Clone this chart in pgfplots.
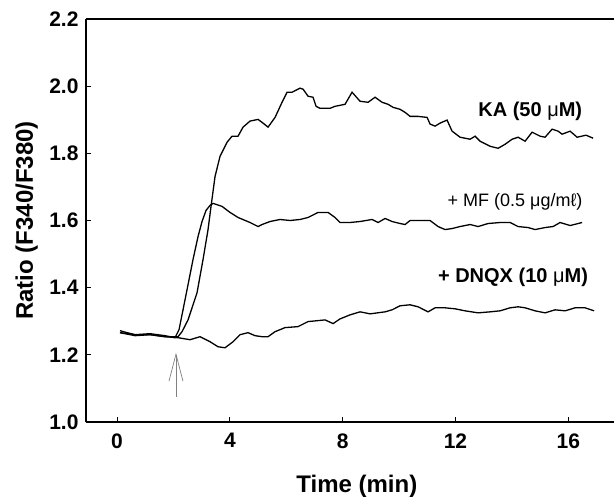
\documentclass[border=0pt]{standalone}
\usepackage{fontspec}
\setmainfont{Liberation Sans}
\usepackage{pgfplots}
\pgfplotsset{compat=1.18}
\usetikzlibrary{arrows.meta}

\pgfplotstableread{
t v
0.106 1.266
0.638 1.257
1.170 1.260
1.702 1.254
2.163 1.254
2.305 1.269
2.518 1.304
2.837 1.385
3.050 1.484
3.227 1.573
3.333 1.642
3.475 1.731
3.652 1.791
3.901 1.833
4.078 1.851
4.291 1.851
4.468 1.878
4.716 1.896
5.000 1.901
5.177 1.890
5.355 1.878
5.603 1.907
5.851 1.952
6.028 1.982
6.206 1.982
6.489 1.994
6.596 1.991
6.773 1.970
6.950 1.967
7.057 1.940
7.199 1.934
7.553 1.934
7.730 1.940
8.085 1.946
8.333 1.982
8.617 1.955
8.901 1.952
9.149 1.967
9.397 1.952
9.610 1.946
9.787 1.937
10.035 1.931
10.213 1.922
10.390 1.910
10.674 1.910
10.993 1.907
11.099 1.887
11.277 1.881
11.454 1.890
11.702 1.899
11.879 1.866
12.163 1.848
12.518 1.842
12.695 1.851
12.872 1.836
13.227 1.821
13.511 1.815
13.759 1.827
14.007 1.842
14.220 1.848
14.468 1.836
14.716 1.863
15.000 1.851
15.177 1.848
15.426 1.872
15.638 1.866
15.780 1.857
16.064 1.866
16.312 1.848
16.631 1.854
16.879 1.845
}\ka

\pgfplotstableread{
t v
0.106 1.272
0.355 1.266
0.638 1.260
1.170 1.263
1.702 1.257
2.057 1.251
2.199 1.275
2.340 1.334
2.518 1.409
2.695 1.484
2.872 1.552
3.014 1.597
3.156 1.630
3.298 1.645
3.404 1.651
3.723 1.642
4.007 1.624
4.291 1.609
4.716 1.594
5.000 1.582
5.142 1.588
5.426 1.597
5.780 1.603
6.135 1.600
6.489 1.603
6.773 1.609
7.128 1.624
7.482 1.624
7.730 1.609
7.908 1.594
8.262 1.594
8.617 1.597
9.043 1.603
9.255 1.594
9.504 1.606
9.752 1.597
10.035 1.591
10.213 1.588
10.390 1.600
10.745 1.600
11.099 1.600
11.383 1.582
11.631 1.573
11.879 1.576
12.163 1.582
12.518 1.588
12.801 1.582
13.156 1.591
13.582 1.594
13.936 1.594
14.220 1.582
14.574 1.579
14.823 1.573
15.177 1.579
15.461 1.582
15.709 1.594
16.064 1.585
16.348 1.591
16.489 1.594
}\mf

\pgfplotstableread{
t v
0.106 1.266
0.638 1.260
1.170 1.260
1.702 1.254
2.163 1.251
2.589 1.245
2.943 1.254
3.298 1.239
3.582 1.224
3.830 1.221
4.113 1.239
4.362 1.260
4.645 1.266
4.894 1.257
5.142 1.254
5.355 1.254
5.603 1.269
5.957 1.281
6.418 1.284
6.773 1.299
7.021 1.301
7.376 1.304
7.660 1.293
7.908 1.307
8.262 1.319
8.617 1.328
8.972 1.322
9.504 1.328
9.752 1.334
10.035 1.346
10.390 1.349
10.674 1.343
11.028 1.328
11.277 1.340
11.631 1.340
11.986 1.337
12.340 1.331
12.801 1.325
13.227 1.328
13.582 1.331
13.936 1.340
14.220 1.343
14.468 1.340
14.823 1.331
15.177 1.325
15.532 1.334
15.887 1.331
16.241 1.340
16.596 1.340
16.915 1.331
}\dnqx

\begin{document}
\begin{tikzpicture}
\useasboundingbox (-86pt,-75pt) rectangle (528pt,422pt);
\begin{axis}[
  at={(0,0)}, anchor=south west,
  scale only axis, width=528pt, height=403pt,
  xmin=-1.1, xmax=17.62, ymin=1.0, ymax=2.2,
  axis x line=box, axis y line=left,
  axis line style={-, line width=1.2pt, black},
  xtick={0,4,8,12,16}, ytick={1.0,1.2,...,2.2},
  xtick pos=left, ytick pos=left,
  tick align=inside,
  major tick length=5pt,
  tick style={line width=0.8pt, black},
  /pgf/number format/assume math mode=true,
  ticklabel style={font=\fontsize{21}{25}\selectfont\bfseries},
  yticklabel style={xshift=-4pt, /pgf/number format/fixed, /pgf/number format/fixed zerofill, /pgf/number format/precision=1},
  xticklabel style={yshift=-8pt},
  xlabel={Time (min)},
  ylabel={Ratio (F340/F380)},
  label style={font=\fontsize{24}{28}\selectfont\bfseries},
  xlabel style={at={(axis description cs:0.513,-0.176)}, anchor=base},
  ylabel style={at={(axis description cs:-0.1004,0.5)}, anchor=base},
  clip=false,
]
\addplot[black, line width=1.3pt] table[x=t,y=v] {\ka};
\addplot[black, line width=1.3pt] table[x=t,y=v] {\mf};
\addplot[black, line width=1.3pt] table[x=t,y=v] {\dnqx};
\draw[gray, line width=0.7pt, -{Straight Barb[length=27pt,width=14pt,line width=0.7pt]}] (axis cs:2.09,1.075) -- (axis cs:2.09,1.206);
\node[font=\fontsize{20}{24}\selectfont\bfseries] at (axis cs:14.65,1.925) {KA (50 {\mdseries μ}M)};
\node[font=\fontsize{18}{22}\selectfont] at (axis cs:14.11,1.657) {+ MF (0.5 μg/mℓ)};
\node[font=\fontsize{20}{24}\selectfont\bfseries] at (axis cs:14.04,1.430) {+ DNQX (10 {\mdseries μ}M)};
\end{axis}
\end{tikzpicture}
\end{document}
